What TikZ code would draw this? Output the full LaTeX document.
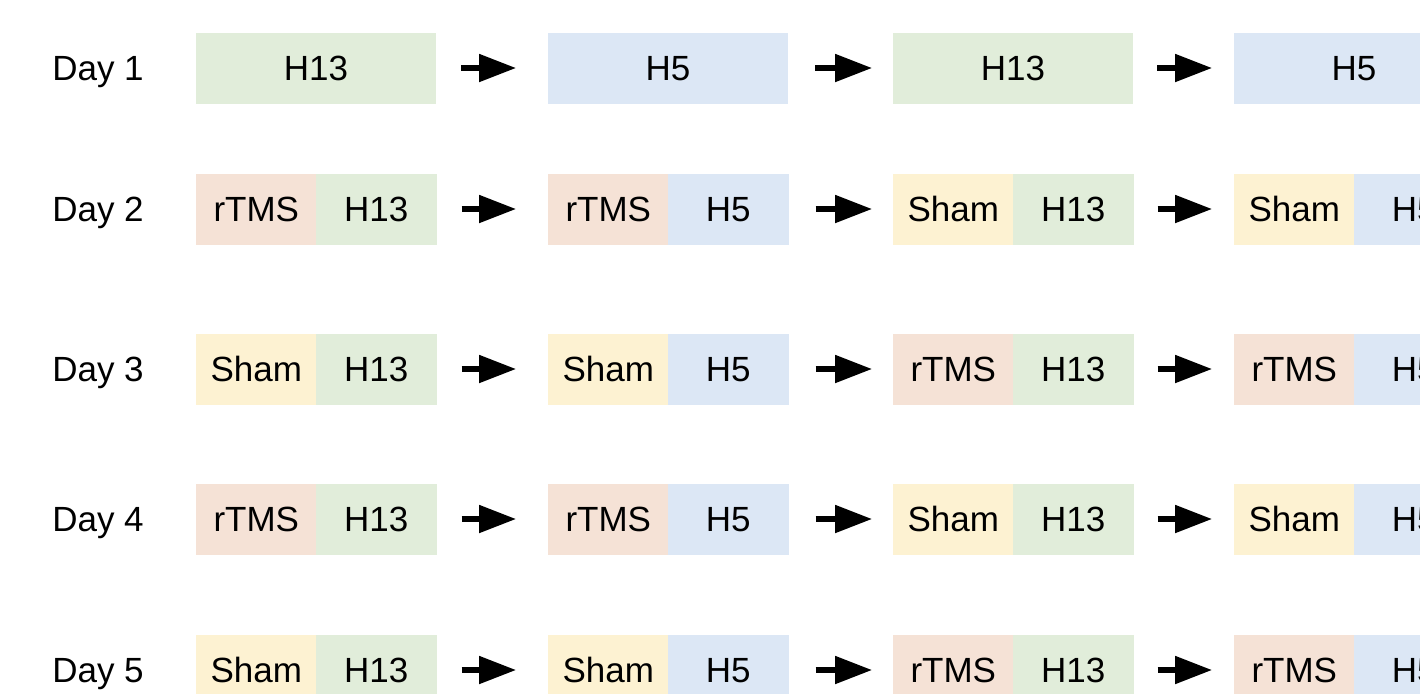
\documentclass[tikz,border=0pt]{standalone}
\usepackage{fontspec}
\setmainfont{Liberation Sans}
\usetikzlibrary{arrows.meta,positioning}
\definecolor{hgreen}{HTML}{E1EDDA}
\definecolor{hblue}{HTML}{DCE7F5}
\definecolor{tmscol}{HTML}{F5E2D6}
\definecolor{shamcol}{HTML}{FDF2D2}
\tikzset{
  box/.style={fill,inner sep=0pt,outer sep=0pt,minimum height=35.5pt,anchor=west,
    text height=12.5pt,text depth=0pt,font=\fontsize{17.5}{20}\selectfont},
  fullbox/.style={box,minimum width=120pt},
  halfbox/.style={box,minimum width=60.3pt},
  H13/.style={fill=hgreen},
  H5/.style={fill=hblue},
  rTMS/.style={fill=tmscol},
  Sham/.style={fill=shamcol},
  daylab/.style={inner sep=0pt,text height=12.5pt,text depth=0pt,
    font=\fontsize{17.5}{20}\selectfont},
  every picture/.style={line cap=butt,line join=miter}
}

\begin{document}
\begin{tikzpicture}[x=0.5pt,y=-0.5pt,
  arr/.style={line width=2.6pt,-{Triangle[length=18.5pt,width=13.5pt]}},
  gapA/.style={arr,shorten <=12.5pt,shorten >=16pt},
  gapB/.style={arr,shorten <=13.5pt,shorten >=10.5pt},
  gapC/.style={arr,shorten <=12pt,shorten >=11pt}]
  \clip (0,0) rectangle (1420,693);
  % day 1: plain blocks
  \node[daylab] (lab1) at (98,68) {Day 1};
  \node[fullbox,H13] (d1c1) at (196,68) {H13};
  \node[fullbox,H5] (d1c2) at (548,68) {H5};
  \node[fullbox,H13] (d1c3) at (893,68) {H13};
  \node[fullbox,H5] (d1c4) at (1234,68) {H5};
  \draw[gapA] (d1c1) -- (d1c2);
  \draw[gapB] (d1c2) -- (d1c3);
  \draw[gapC] (d1c3) -- (d1c4);
  % days 2--5: stimulation then block
  \foreach \d/\y/\sa/\sb in {2/209/rTMS/Sham,3/369/Sham/rTMS,
                             4/519/rTMS/Sham,5/670/Sham/rTMS}{
    \node[daylab] (lab\d) at (98,\y) {Day \d};
    \node[halfbox,\sa] (d\d s1) at (196,\y) {\sa};
    \node[halfbox,H13,right=-0.3pt of d\d s1] (d\d c1) {H13};
    \node[halfbox,\sa] (d\d s2) at (548,\y) {\sa};
    \node[halfbox,H5,right=-0.3pt of d\d s2] (d\d c2) {H5};
    \node[halfbox,\sb] (d\d s3) at (893,\y) {\sb};
    \node[halfbox,H13,right=-0.3pt of d\d s3] (d\d c3) {H13};
    \node[halfbox,\sb] (d\d s4) at (1234,\y) {\sb};
    \node[halfbox,H5,right=-0.3pt of d\d s4] (d\d c4) {H5};
    \draw[gapA] (d\d c1) -- (d\d s2);
    \draw[gapB] (d\d c2) -- (d\d s3);
    \draw[gapC] (d\d c3) -- (d\d s4);
  }
\end{tikzpicture}
\end{document}
